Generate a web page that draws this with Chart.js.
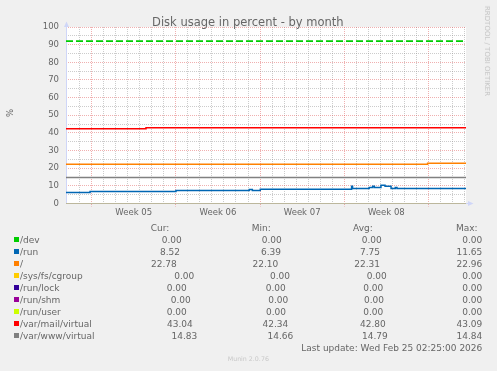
<!DOCTYPE html>
<html><head><meta charset="utf-8">
<script src="https://cdn.jsdelivr.net/npm/chart.js@4"></script>
<style>
html,body{margin:0;padding:0;background:#f0f0f0;}
#wrap{position:relative;width:497px;height:371px;overflow:hidden;font-family:'DejaVu Sans',sans-serif;color:#666;}
#c{position:absolute;left:0;top:0;}
.t{position:absolute;white-space:nowrap;line-height:normal;}
.sw{position:absolute;width:5px;height:5px;}
</style></head><body>
<div id="wrap"><canvas id="c" width="497" height="371"></canvas></div>
<script>
// ---------- data ----------
const seriesLabels = ['/dev','/run','/','/sys/fs/cgroup','/run/lock','/run/shm','/run/user','/var/mail/virtual','/var/www/virtual'];
const seriesColors = ['#00CC00','#0066B3','#FF8000','#FFCC00','#330099','#990099','#CCFF00','#FF0000','#808080'];
const curValues = [0.00, 8.52, 22.78, 0.00, 0.00, 0.00, 0.00, 43.04, 14.83];
const minValues = [0.00, 6.39, 22.10, 0.00, 0.00, 0.00, 0.00, 42.34, 14.66];
const avgValues = [0.00, 7.75, 22.31, 0.00, 0.00, 0.00, 0.00, 42.80, 14.79];
const maxValues = [0.00, 11.65, 22.96, 0.00, 0.00, 0.00, 0.00, 43.09, 14.84];

const xTickLabels = ['Week 05','Week 06','Week 07','Week 08'];
const labelDays = [5.63, 12.63, 19.63, 26.63];      // label positions, days from graph start
const weekStartDays = [2.13, 9.13, 16.13, 23.13, 30.13];
const rangeDays = 33.25;
const warningLevel = 92;

// series: x = days since graph start, y = percent
const devDays = [0, 33.25],  devValues = [0, 0];
const runDays = [0, 2.0, 9.14, 15.24, 15.49, 16.15, 23.74, 23.82, 25.2, 25.49, 25.63, 26.18, 26.52, 27.02, 27.37, 27.51, 33.25];
const runValues = [6.3, 6.8, 7.4, 7.9, 7.4, 8.05, 9.8, 8.5, 9.1, 9.8, 9.1, 10.4, 9.8, 8.5, 9.1, 8.5, 8.52];
const rootDays = [0, 30.06, 33.25], rootValues = [22.2, 22.78, 22.78];
const cgroupDays = [0, 33.25], cgroupValues = [0, 0];
const lockDays = [0, 33.25], lockValues = [0, 0];
const shmDays = [0, 33.25], shmValues = [0, 0];
const userDays = [0, 33.25], userValues = [0, 0];
const mailDays = [0, 6.65, 33.25], mailValues = [42.34, 42.98, 43.04];
const wwwDays = [0, 33.25], wwwValues = [14.8, 14.83];
const warnDays = [0, 33.25], warnValues = [warningLevel, warningLevel];

const seriesDays = [devDays, runDays, rootDays, cgroupDays, lockDays, shmDays, userDays, mailDays, wwwDays];
const seriesValues = [devValues, runValues, rootValues, cgroupValues, lockValues, shmValues, userValues, mailValues, wwwValues];

// ---------- layout (text placement) ----------
const curRight = [181.7,180,176.7,194.3,186.7,190.7,186.7,192.7,197.3];
const minRight = [281.7,281,278.3,290,285.7,288.3,286,288.3,293.3];
const avgRight = [381.7,380,380,386.7,383.3,384,383.3,385.7,387.7];

const FONT = "'DejaVu Sans', sans-serif";
const GRID = 'rgba(143,143,143,0.45)';
const MGRID = 'rgba(222,80,80,0.45)';
const AXIS = '#CFD6F8';

const r2 = v => Math.round(v*100)/100;
const dayTicks = [];
for (let k = 1; k <= 33; k++) dayTicks.push(r2(0.13 + k));
const xTicks = dayTicks.concat(labelDays).sort((a,b)=>a-b);

const datasets = seriesLabels.map((lab, i) => {
  const allZero = seriesValues[i].every(v => v === 0);
  return {
    label: lab,
    data: seriesDays[i].map((d, j) => ({x: d, y: seriesValues[i][j]})),
    borderColor: seriesColors[i],
    backgroundColor: seriesColors[i],
    borderWidth: allZero ? 1 : 1.5,
    stepped: true,
    fill: false,
    pointRadius: 0,
    order: seriesLabels.length - i
  };
});
datasets.push({
  label: 'warning',
  data: warnDays.map((d, j) => ({x: d, y: warnValues[j]})),
  borderColor: '#00CC00',
  borderWidth: 1.6,
  borderDash: [7, 3],
  pointRadius: 0,
  fill: false,
  order: 0
});

const bgPlugin = {
  id: 'bg',
  beforeDraw(chart) {
    const {ctx, chartArea: a} = chart;
    ctx.save();
    ctx.fillStyle = '#f0f0f0';
    ctx.fillRect(0, 0, chart.width, chart.height);
    ctx.fillStyle = '#ffffff';
    ctx.fillRect(a.left, a.top, a.right - a.left, a.bottom - a.top);
    ctx.restore();
  },
  beforeDatasetsDraw(chart) {
    const {ctx, chartArea: a} = chart;
    const lx = Math.round(a.left) + 0.5, by = Math.floor(a.bottom) + 0.5;
    ctx.save();
    ctx.strokeStyle = AXIS; ctx.fillStyle = AXIS; ctx.lineWidth = 1;
    ctx.beginPath();
    ctx.moveTo(lx, by); ctx.lineTo(lx, a.top - 4);
    ctx.moveTo(a.left, by); ctx.lineTo(a.right + 3, by);
    ctx.stroke();
    ctx.beginPath();
    ctx.moveTo(lx - 2.5, a.top); ctx.lineTo(lx + 2.5, a.top); ctx.lineTo(lx, a.top - 5.5); ctx.closePath();
    ctx.fill();
    ctx.beginPath();
    ctx.moveTo(a.right + 2, by - 2.5); ctx.lineTo(a.right + 2, by + 2.5); ctx.lineTo(a.right + 7.5, by); ctx.closePath();
    ctx.fill();
    ctx.restore();
  },
  afterDatasetsDraw(chart) {
    const {ctx, chartArea: a} = chart;
    const by = Math.floor(a.bottom) + 0.5;
    ctx.save();
    ctx.strokeStyle = 'rgba(207,214,248,0.5)'; ctx.lineWidth = 1;
    ctx.beginPath();
    ctx.moveTo(a.left, by); ctx.lineTo(a.right, by);
    ctx.stroke();
    ctx.restore();
  }
};

new Chart(document.getElementById('c'), {
  type: 'line',
  data: { datasets },
  options: {
    responsive: false, animation: false, devicePixelRatio: 1,
    layout: { padding: { top: 27, right: 31, left: 0, bottom: 0 } },
    plugins: { legend: { display: false }, title: { display: false }, tooltip: { enabled: false } },
    elements: { line: { tension: 0 }, point: { radius: 0 } },
    scales: {
      x: {
        type: 'linear', min: 0, max: rangeDays,
        afterBuildTicks: s => { s.ticks = xTicks.map(v => ({ value: v })); },
        afterFit: s => { s.height = 167.5; },
        ticks: {
          autoSkip: false, maxRotation: 0, minRotation: 0, padding: 1, color: '#666',
          font: { family: FONT, size: 8.5 },
          callback: v => { const i = labelDays.indexOf(r2(v)); return i >= 0 ? xTickLabels[i] : ''; }
        },
        grid: {
          drawTicks: true, tickLength: 3, tickBorderDash: [1, 1], lineWidth: 1,
          color: c => {
            const v = r2(c.tick.value);
            if (labelDays.includes(v)) return 'rgba(0,0,0,0)';
            return weekStartDays.includes(v) ? MGRID : GRID;
          },
          tickColor: c => (weekStartDays.includes(r2(c.tick.value)) ? MGRID : 'rgba(0,0,0,0)')
        },
        border: { display: false, dash: [1, 1] }
      },
      y: {
        min: 0, max: 100,
        afterFit: s => { s.width = 66; },
        ticks: {
          stepSize: 5, autoSkip: false, padding: 7, color: '#666',
          font: { family: FONT, size: 8.5 },
          callback: v => (v % 10 === 0 ? String(v) : '')
        },
        grid: { drawTicks: false, lineWidth: 1, color: c => (c.tick.value % 10 === 0 ? MGRID : GRID) },
        border: { display: false, dash: [1, 1] }
      }
    }
  },
  plugins: [bgPlugin]
});

// ---------- text ----------
const wrap = document.getElementById('wrap');
function txt(str, size, baseline, o) {
  const el = document.createElement('div');
  el.className = 't';
  el.textContent = str;
  el.style.fontSize = size + 'px';
  el.style.top = (baseline - 0.928 * size) + 'px';
  if (o.color) el.style.color = o.color;
  if (o.left != null) el.style.left = o.left + 'px';
  if (o.right != null) el.style.right = (497 - o.right) + 'px';
  if (o.center != null) { el.style.left = o.center + 'px'; el.style.transform = 'translateX(-50%)'; }
  wrap.appendChild(el);
  return el;
}
function rot(str, size, cx, cy, deg, color) {
  const el = document.createElement('div');
  el.className = 't';
  el.textContent = str;
  el.style.fontSize = size + 'px';
  el.style.left = cx + 'px';
  el.style.top = cy + 'px';
  el.style.transform = 'translate(-50%,-50%) rotate(' + deg + 'deg)';
  if (color) el.style.color = color;
  wrap.appendChild(el);
}

txt('Disk usage in percent - by month', 11.5, 26, { center: 247.8 });
rot('%', 8.5, 10, 113, -90);
rot('RRDTOOL / TOBI OETIKER', 7, 487, 51, 90, '#c4c4c4');

const LS = 9;
txt('Cur:', LS, 231, { left: 150.7 });
txt('Min:', LS, 231, { left: 251.7 });
txt('Avg:', LS, 231, { left: 353 });
txt('Max:', LS, 231, { left: 456 });
seriesLabels.forEach((lab, i) => {
  const b = 243 + 12 * i;
  const sw = document.createElement('div');
  sw.className = 'sw';
  sw.style.left = '14px';
  sw.style.top = (b - 6) + 'px';
  sw.style.background = seriesColors[i];
  wrap.appendChild(sw);
  txt(lab, LS, b, { left: 20 });
  txt(curValues[i].toFixed(2), LS, b, { right: curRight[i] });
  txt(minValues[i].toFixed(2), LS, b, { right: minRight[i] });
  txt(avgValues[i].toFixed(2), LS, b, { right: avgRight[i] });
  txt(maxValues[i].toFixed(2), LS, b, { right: 482.3 });
});
txt('Last update: Wed Feb 25 02:25:00 2026', LS, 351, { right: 482.3 });
txt('Munin 2.0.76', 6.3, 360.5, { center: 248.3, color: '#c8c8c8' });
</script>
</body></html>
